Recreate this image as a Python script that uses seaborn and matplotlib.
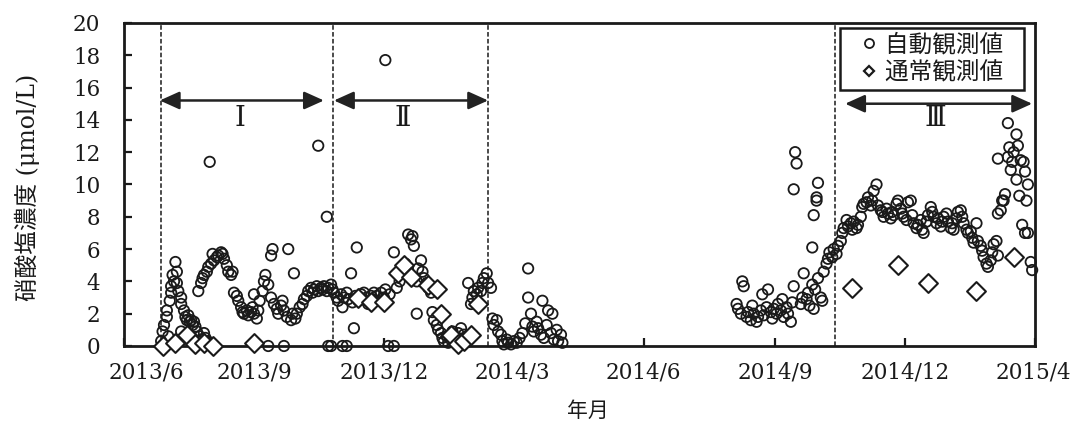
import matplotlib
matplotlib.use("Agg")
import matplotlib.pyplot as plt
import matplotlib.dates as mdates
import matplotlib.transforms as mtransforms
from matplotlib.lines import Line2D
import pandas as pd
import seaborn as sns

# ---------------------------------------------------------------------------
# Data: nitrate concentration (umol/L); dates are given as days since 2013-06-01
# ---------------------------------------------------------------------------
BASE = pd.Timestamp("2013-06-01")

# automatic (continuous) observations
auto_day = [
    27, 28, 29, 31, 31, 33, 34, 34, 35, 36, 37, 38, 38, 39, 41, 41, 43, 44, 45, 47,
    48, 50, 51, 52, 54, 55, 57, 58, 59, 61, 62, 32, 41, 46, 49,
    53, 55, 56, 57, 59, 60, 62, 63, 64, 66, 67, 69, 70, 71, 73, 74, 76, 77, 61,
    78, 80, 81, 83, 84, 85, 87, 88, 90, 91, 92, 92, 94, 95,
    96, 98, 99, 100, 102, 104, 104, 105, 106, 108, 109, 111, 112, 113, 115, 116, 118,
    119, 120, 121, 122, 124, 102, 113,
    126, 127, 129, 130, 132, 133, 134, 136, 137, 139, 140, 141, 143, 144, 146, 147,
    148, 150, 151, 153, 137, 143, 144, 146, 154, 157,
    154, 155, 157, 158, 160, 161, 162, 163, 164, 165, 167, 168, 169, 171, 172, 174,
    175, 176, 178, 179, 181, 183, 184, 184, 186, 187, 190,
    190, 192, 194, 196, 198, 200, 202, 203, 204, 206, 206, 207, 209, 210, 211, 213,
    214, 216,
    217, 218, 220, 221, 223, 224, 225, 227, 228, 230, 231, 233, 235, 237, 239, 241,
    242, 244,
    245, 246, 248, 249, 251, 252, 253, 255, 256, 258, 259, 260, 262, 263, 265, 266,
    267, 269, 270,
    272, 274, 276, 278, 280, 282, 284, 284, 286, 287, 288, 290, 291, 293, 294, 295,
    297, 298, 300, 301, 302, 304, 305, 307, 308,
    430, 431, 433, 434, 435, 437, 438, 440, 441, 442, 444, 445, 447, 448, 449, 451,
    452, 454, 455, 456, 458, 459, 461, 462, 463, 465, 466, 468, 469, 470,
    470, 471, 472, 483, 484, 486, 486, 487,
    475, 476, 477, 479, 480, 481, 483, 484, 485, 487, 489, 490, 491, 493, 494, 495,
    497, 498, 500, 501, 503,
    504, 505, 507, 508, 510, 511, 512, 514, 515, 517, 518, 519, 521, 522, 524, 525,
    526, 528, 529, 531, 532, 533, 535, 536, 538, 539, 540, 542, 543, 545,
    546, 547, 549, 550, 552, 553, 554, 556, 557, 559, 560, 561, 563, 564, 566, 567,
    568, 570, 571, 573, 574, 575, 577, 578, 580, 581, 582, 584, 585, 587,
    588, 589, 591, 592, 594, 595, 596, 598, 599, 601, 602, 603, 605, 606, 608, 609,
    610, 612, 613,
    613, 615, 617, 618, 620, 620, 621, 622, 623, 624, 626, 626, 627, 628, 629, 630,
    631, 632, 632, 633, 634, 634, 636, 637, 613, 616,
]
auto_val = [
    0.3, 0.9, 1.3, 1.8, 2.2, 2.8, 3.3, 3.7, 4.4, 4.0, 5.2, 4.6, 3.9, 3.4, 3.0, 2.6, 2.2, 1.8, 1.6, 1.5,
    1.6, 1.5, 1.2, 0.9, 0.6, 0.4, 0.8, 0.5, 0.3, 0.1, 0.2, 0.6, 0.9, 1.9, 1.3,
    3.4, 3.9, 4.2, 4.4, 4.6, 4.9, 5.1, 5.7, 5.3, 5.5, 5.6, 5.8, 5.7, 5.4, 5.0, 4.6, 4.4, 4.6, 11.4,
    3.3, 3.1, 2.8, 2.4, 2.1, 2.0, 2.2, 1.9, 2.1, 2.4, 3.2, 2.0, 1.7, 2.2,
    2.8, 3.4, 4.0, 4.4, 3.8, 3.0, 5.6, 6.0, 2.6, 2.3, 2.0, 2.5, 2.8, 2.2, 1.8, 6.0, 1.6,
    2.0, 4.5, 1.7, 2.0, 2.4, 0.0, 0.0,
    2.6, 2.9, 3.1, 3.4, 3.6, 3.3, 3.5, 3.7, 3.4, 3.6, 3.5, 3.7, 3.4, 3.6, 3.8, 3.5,
    3.3, 3.0, 2.8, 3.2, 12.4, 8.0, 0.0, 0.0, 0.0, 0.0,
    2.4, 3.0, 3.3, 2.9, 4.5, 2.7, 1.1, 3.1, 6.1, 2.8, 3.2, 2.9, 3.3, 3.0, 2.6, 3.1,
    2.9, 3.3, 3.1, 2.8, 3.3, 3.0, 3.5, 17.7, 0.0, 3.2, 0.0,
    5.8, 3.6, 4.0, 4.5, 5.1, 6.9, 6.6, 6.8, 6.2, 4.0, 2.0, 4.8, 5.3, 4.6, 4.2, 3.9,
    3.6, 3.3,
    2.1, 1.6, 1.3, 1.0, 0.8, 0.5, 0.3, 0.6, 0.2, 0.4, 0.9, 0.5, 0.8, 1.1, 0.7, 0.4,
    3.9, 2.6,
    3.0, 3.4, 3.2, 3.6, 3.4, 3.9, 4.2, 4.5, 3.9, 3.6, 1.7, 1.3, 1.6, 0.9, 0.7, 0.3,
    0.1, 0.4, 0.2,
    0.1, 0.3, 0.2, 0.5, 0.8, 1.4, 4.8, 3.0, 2.0, 1.2, 0.9, 1.5, 1.1, 0.7, 2.8, 0.5,
    1.3, 2.2, 0.8, 2.0, 0.4, 1.0, 0.3, 0.7, 0.2,
    2.6, 2.3, 2.0, 4.0, 3.7, 1.8, 2.1, 1.6, 2.5, 2.0, 1.5, 1.8, 2.2, 3.2, 1.9, 2.4,
    3.5, 2.1, 1.7, 2.3, 2.0, 2.6, 2.2, 2.9, 1.8, 2.4, 2.0, 1.5, 2.7, 3.7,
    9.7, 12.0, 11.3, 6.1, 8.1, 9.2, 9.0, 10.1,
    2.6, 3.0, 4.5, 2.9, 3.3, 2.5, 3.8, 2.3, 3.5, 4.2, 3.0, 2.8, 4.6, 5.1, 5.4, 5.8,
    5.5, 6.0, 5.7, 6.2, 6.5,
    7.0, 7.3, 7.8, 7.4, 7.6, 7.2, 7.7, 7.3, 7.5, 8.0, 8.6, 8.8, 8.9, 9.2, 8.7, 9.0,
    9.6, 10.0, 8.7, 8.4, 8.3, 8.0, 8.5, 8.2, 7.9, 8.3, 8.1, 8.8, 9.0, 8.5,
    8.2, 8.0, 7.8, 8.9, 9.0, 8.1, 7.6, 7.3, 7.5, 7.8, 7.2, 7.0, 7.7, 8.1, 8.6, 8.3,
    8.0, 7.6, 7.9, 7.4, 7.7, 8.0, 8.2, 7.7, 7.3, 7.6, 7.2, 7.9, 8.3, 8.4,
    8.0, 7.6, 7.2, 7.0, 7.1, 6.7, 6.4, 7.6, 6.5, 6.2, 5.9, 5.5, 5.1, 4.9, 5.3, 5.8,
    6.3, 6.5, 5.6,
    8.2, 8.4, 9.0, 9.4, 11.7, 13.8, 12.3, 10.9, 11.4, 12.0, 10.3, 13.1, 12.4, 9.3, 11.5, 7.5,
    11.4, 7.0, 10.8, 9.0, 10.0, 7.0, 5.2, 4.7, 11.6, 9.0,
]

# regular (routine) observations
manual_day = [28, 37, 45, 51, 57, 63, 92, 165, 174, 183, 193, 197, 202, 214, 220,
              223, 230, 235, 239, 244, 249, 511, 543, 564, 598, 624]
manual_val = [0.0, 0.2, 0.7, 0.1, 0.2, 0.0, 0.2, 3.0, 2.7, 2.7, 4.5, 5.0, 4.3, 3.8, 3.5,
              2.0, 0.7, 0.1, 0.3, 0.7, 2.6, 3.6, 5.0, 3.9, 3.4, 5.5]

# period boundaries (dashed lines) and period arrows
boundary_dates = ["2013-06-28", "2013-10-26", "2014-02-12", "2014-10-13"]
period_names = ["Ⅰ", "Ⅱ", "Ⅲ"]
period_start = ["2013-06-27", "2013-10-27", "2014-10-20"]
period_end = ["2013-10-20", "2014-02-12", "2015-02-28"]
period_label_date = ["2013-08-22", "2013-12-14", "2014-12-22"]
arrow_y = [15.2, 15.2, 15.0]
label_y = [14.1, 14.1, 14.1]

tick_dates = ["2013-06-02", "2013-09-01", "2013-12-01", "2014-03-01",
              "2014-06-01", "2014-09-01", "2014-12-01", "2015-03-02"]
tick_labels = ["2013/6", "2013/9", "2013/12", "2014/3",
               "2014/6", "2014/9", "2014/12", "2015/4"]
y_ticks = [0, 2, 4, 6, 8, 10, 12, 14, 16, 18, 20]

# ---------------------------------------------------------------------------
sns.set_theme(style="white")
plt.rcParams["font.family"] = ["DejaVu Serif", "Noto Sans CJK JP"]
plt.rcParams["axes.unicode_minus"] = False

auto = pd.DataFrame({"date": BASE + pd.to_timedelta(auto_day, unit="D"),
                     "value": auto_val})
manual = pd.DataFrame({"date": BASE + pd.to_timedelta(manual_day, unit="D"),
                       "value": manual_val})

fig = plt.figure(figsize=(10.72, 4.29), dpi=100)
ax = fig.add_axes([0.1157, 0.1935, 0.8498, 0.7530])

ink = "#1a1a1a"
sns.scatterplot(data=auto, x="date", y="value", ax=ax, marker="o", s=56,
                facecolor="none", edgecolor=ink, linewidth=1.3, zorder=3)
sns.scatterplot(data=manual, x="date", y="value", ax=ax, marker="D", s=92,
                facecolor="white", edgecolor=ink, linewidth=1.5, zorder=4)
for coll in ax.collections:
    coll.set_clip_on(False)
ax.collections[0].set_facecolor("none")

# period boundaries
for d in boundary_dates:
    ax.axvline(pd.Timestamp(d), color=ink, lw=1.1, ls=(0, (3.0, 1.5)), zorder=2)

# period arrows and labels
for name, s0, s1, ld, ya, yl in zip(period_names, period_start, period_end,
                                    period_label_date, arrow_y, label_y):
    ax.annotate("", xy=(mdates.date2num(pd.Timestamp(s1)), ya),
                xytext=(mdates.date2num(pd.Timestamp(s0)), ya),
                arrowprops=dict(arrowstyle="<|-|>,head_length=1.0,head_width=0.45",
                                mutation_scale=12, color="#222222", lw=1.8,
                                shrinkA=0, shrinkB=0), zorder=5)
    ax.text(mdates.date2num(pd.Timestamp(ld)), yl, name, ha="center", va="center",
            fontsize=20, color=ink, family=["DejaVu Serif", "Noto Sans CJK JP"])

# axes limits, ticks
ax.set_xlim(pd.Timestamp(tick_dates[0]), pd.Timestamp(tick_dates[-1]))
ax.set_ylim(0, 20)
ax.set_xticks([mdates.date2num(pd.Timestamp(d)) for d in tick_dates])
ax.set_xticklabels(tick_labels)
ax.set_yticks(y_ticks)
ax.set_yticklabels([str(v) for v in y_ticks])
ax.tick_params(axis="both", direction="in", length=6, width=1.6, color=ink,
               labelsize=15.5, labelcolor=ink)
ax.tick_params(axis="x", pad=11, bottom=True, top=False)
ax.tick_params(axis="y", pad=17, left=True, right=False)

labels = ax.get_xticklabels()
labels[0].set_transform(labels[0].get_transform() +
                        mtransforms.ScaledTranslation(0.22, 0, fig.dpi_scale_trans))
labels[-1].set_transform(labels[-1].get_transform() +
                         mtransforms.ScaledTranslation(-0.02, 0, fig.dpi_scale_trans))

for sp in ax.spines.values():
    sp.set_visible(True)
    sp.set_color(ink)
    sp.set_linewidth(2.0)

ax.set_xlabel("年月", fontsize=15, color=ink)
ax.set_ylabel("硝酸塩濃度 (μmol/L)", fontsize=17, color=ink)
ax.xaxis.set_label_coords(0.509, -0.17)
ax.yaxis.set_label_coords(-0.092, 0.49)

handles = [
    Line2D([], [], ls="none", marker="o", markersize=6.5, mfc="none", mec=ink, mew=1.3),
    Line2D([], [], ls="none", marker="D", markersize=5.5, mfc="none", mec=ink, mew=1.6),
]
leg = ax.legend(handles, ["自動観測値  ", "通常観測値  "], loc="upper right",
                bbox_to_anchor=(0.988, 0.985), borderaxespad=0, fontsize=17,
                frameon=True, fancybox=False, framealpha=1, edgecolor=ink,
                handlelength=1.95, handletextpad=-0.29, borderpad=0.25,
                labelspacing=0.2)
leg.get_frame().set_linewidth(1.8)
for t in leg.get_texts():
    t.set_color(ink)

fig.savefig("out.png", dpi=100, facecolor="white")
